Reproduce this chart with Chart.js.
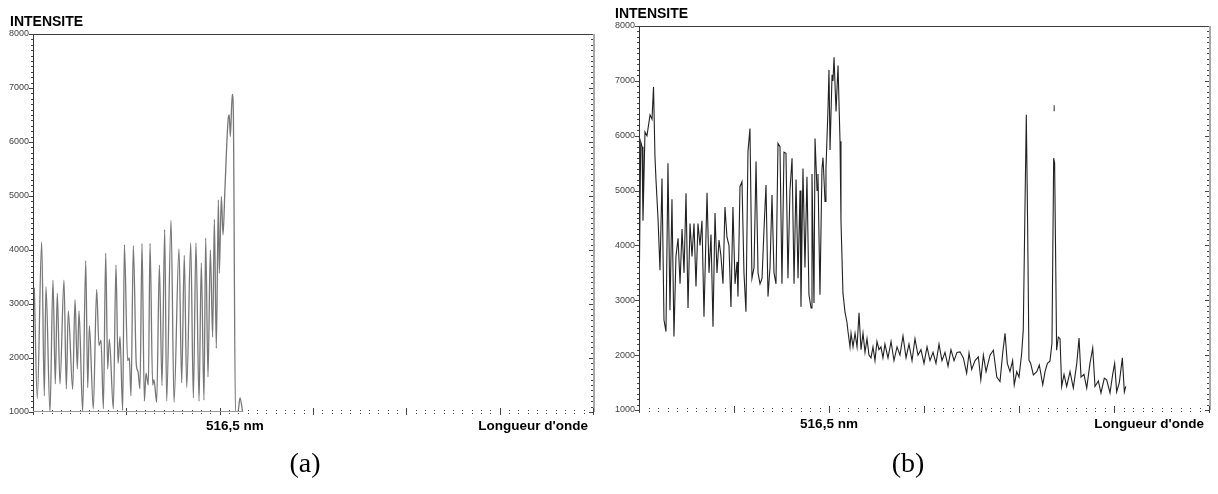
<!DOCTYPE html>
<html>
<head>
<meta charset="utf-8">
<script src="https://cdn.jsdelivr.net/npm/chart.js@4"></script>
<style>
  body { margin: 0; background: #fff; }
  #wrap { position: relative; width: 1218px; height: 494px; }
  canvas { position: absolute; top: 0; }
</style>
</head>
<body>
<div id="wrap">
  <canvas id="chartA" width="606" height="494" style="left:0"></canvas>
  <canvas id="chartB" width="612" height="494" style="left:606px"></canvas>
</div>
<script>
// axis ranges and texts
const yMin = 1000, yMax = 8000, yStep = 1000;
const xMin = 0, xMax = 600;
const titleText = 'INTENSITE';
const markerLabel = '516,5 nm';
const axisLabel = "Longueur d'onde";
const captions = ['(a)', '(b)'];

// spectrum (a): wavelength steps and intensity
const wavelengthA = [
  1.4, 4.6, 9.3, 12.1, 13.9, 18.2, 21.4, 23.9, 26.0, 28.9,
  33.2, 35.7, 37.8, 42.5, 45.0, 47.5, 49.3, 53.2, 56.5, 58.6,
  60.4, 64.6, 68.2, 70.7, 72.9, 75.4, 77.9, 80.0, 81.8, 86.1,
  88.9, 91.1, 93.2, 96.1, 97.9, 101.4, 103.2, 105.0, 107.5, 110.7,
  112.5, 114.6, 116.8, 119.3, 121.1, 123.6, 125.4, 128.2, 129.6, 132.5,
  135.4, 138.2, 141.1, 143.2, 147.9, 151.1, 156.4, 159.3, 162.1, 164.7,
  169.0, 171.8, 174.6, 177.9, 180.3, 183.2, 185.0, 187.5, 190.0, 192.5,
  194.3, 196.4, 198.6, 199.6, 201.8, 203.6, 205.7, 209.2, 210.3, 211.4,
  213.5, 214.6, 216.9, 219.6, 221.8, 224.6
];
const intensityA = [
  3300, 1250, 4150, 1300, 3320, 1000, 3440, 1520, 3200, 1520,
  3440, 1430, 2870, 1420, 3080, 1800, 2870, 1000, 3800, 1450,
  2600, 1060, 3270, 2230, 2330, 1060, 3940, 1800, 2350, 1060,
  3720, 1900, 2400, 1030, 4100, 1950, 2000, 1300, 4080, 1870,
  1750, 1430, 4120, 1200, 1720, 1500, 4120, 1500, 1600, 1180,
  3720, 1490, 4380, 1200, 4550, 1180, 4020, 1540, 3900, 1450,
  4130, 1260, 4130, 1200, 3760, 1220, 4220, 1650, 4000, 2390,
  4570, 2180, 4930, 3570, 4990, 4280, 5150, 6440, 6500, 6100,
  6880, 6600, 1000, 1000, 1260, 1000
];
const markerA = 216.4;

// spectrum (b)
const wavelengthB = [
  0.5, 1.8, 3.2, 4.2, 6.3, 8.4, 11.6, 13.7, 15.3, 16.8,
  17.9, 20.0, 22.1, 24.2, 26.3, 28.4, 30.5, 32.6, 34.7, 36.8,
  38.9, 41.1, 43.2, 45.3, 47.4, 49.5, 51.6, 53.7, 55.8, 57.9,
  60.0, 62.1, 64.2, 66.3, 68.4, 71.6, 73.7, 75.8, 77.9, 80.0,
  82.1, 84.2, 86.3, 88.4, 90.5, 92.6, 94.7, 96.8, 98.9, 101.1,
  103.2, 104.2, 106.3, 108.4, 110.5, 112.6, 114.7, 116.8, 118.9, 121.1,
  123.2, 125.3, 127.4, 129.5, 131.6, 133.7, 135.8, 137.9, 140.0, 142.1,
  144.2, 146.3, 148.4, 150.5, 152.6, 154.7, 156.8, 158.9, 161.1, 163.2,
  165.3, 167.4, 169.5, 170.5, 172.6, 174.7, 176.8, 178.9, 181.1, 182.1,
  184.2, 185.3, 187.4, 188.4, 190.5, 192.6, 193.7, 195.8, 196.8, 198.9,
  200.0, 201.1, 203.2, 204.2, 205.3, 207.4, 209.5, 211.6, 212.6, 214.7,
  216.8, 218.9, 220.0, 222.1, 223.2, 225.3, 227.4, 229.5, 231.6, 233.7,
  235.8, 237.9, 240.0, 242.1, 244.2, 246.3, 248.4, 250.5, 252.6, 254.7,
  256.8, 258.9, 262.1, 265.3, 268.4, 271.6, 274.7, 277.9, 281.1, 284.2,
  287.4, 290.5, 293.7, 296.8, 300.0, 303.2, 306.3, 309.5, 312.6, 315.8,
  318.9, 322.1, 325.3, 328.4, 331.6, 334.7, 337.9, 341.4, 344.9, 347.4,
  350.2, 353.7, 357.2, 359.8, 362.5, 365.3, 369.5, 373.0, 376.6, 380.0,
  382.8, 385.3, 387.7, 390.5, 393.3, 395.0, 397.6, 400.0, 402.8, 404.5,
  406.3, 407.7, 409.1, 410.5, 412.3, 415.1, 418.7, 421.4, 425.0, 427.4,
  429.9, 432.6, 434.7, 436.5, 437.5, 438.6, 439.6, 441.4, 443.2, 444.9,
  447.4, 450.2, 453.7, 457.2, 460.8, 463.2, 465.3, 468.4, 471.3, 474.7,
  477.6, 480.0, 483.5, 486.3, 489.8, 492.3, 495.8, 498.6, 500.7, 502.8,
  505.6, 508.8, 510.9, 512.4
];
const intensityB = [
  3700, 5890, 5800, 4450, 6070, 6000, 6380, 6300, 6890, 5620,
  5190, 4500, 3550, 5220, 2640, 2430, 5500, 2820, 4840, 2340,
  3800, 4130, 3300, 4300, 3500, 4950, 2860, 4400, 3800, 4400,
  3250, 4400, 4000, 4450, 2700, 4960, 3500, 4200, 2520, 4590,
  3500, 4100, 3800, 3300, 4700, 4150, 4000, 2880, 4700, 3300,
  3700, 3070, 5070, 5160, 3500, 2790, 5710, 6130, 3400, 3600,
  5530, 3500, 3300, 3400, 4300, 5100, 3070, 3600, 4920, 3500,
  3300, 5860, 5800, 3300, 5700, 5680, 3400, 5000, 5590, 3300,
  5200, 3400, 5000, 2880, 5400, 3600, 5250, 3100, 2860, 5300,
  2950, 5950, 5000, 5300, 3100, 5400, 5600, 4800, 5400, 6470,
  7200, 5740, 7110, 7000, 7430, 6440, 7280, 5900, 4460, 3130,
  2790, 2600, 2430, 2150, 2400, 2150, 2400, 2150, 2770, 2100,
  2400, 2050, 2300, 2000, 1950, 2150, 1900, 2250, 2100, 2150,
  1950, 2200, 1950, 2250, 1900, 2150, 2000, 2350, 1950, 2200,
  1900, 2300, 2000, 2100, 1850, 2150, 1900, 2050, 1850, 2200,
  1900, 2050, 1800, 2100, 1900, 2050, 2060, 1950, 1670, 2040,
  1740, 1900, 1970, 1550, 2000, 1700, 2000, 2090, 1600, 1520,
  2030, 2400, 1850, 1700, 1900, 1460, 1700, 1600, 2030, 2460,
  4700, 6380, 4340, 1910, 1850, 1640, 1700, 1820, 1460, 1700,
  1850, 1890, 2220, 5590, 5500, 3730, 2090, 2330, 2300, 1430,
  1650, 1430, 1700, 1400, 1850, 2310, 1600, 1650, 1400, 1850,
  2130, 1430, 1530, 1310, 1580, 1550, 1310, 1650, 1850, 1330,
  1500, 1950, 1330, 1430
];
const markerB = 200;
// isolated dot above the second narrow line
const strayB = [{ x: 437.0, y: 6500 }];

const framePlugin = {
  id: 'frame',
  afterDraw(chart, args, opts) {
    const { ctx, chartArea: a, scales: { x, y } } = chart;
    ctx.save();
    ctx.fillStyle = '#3a3a3a';
    ctx.fillRect(a.left, a.top, a.right - a.left, 1);
    ctx.fillStyle = '#a8a8a8';
    ctx.fillRect(a.right, a.top, 2, a.bottom - a.top);

    ctx.fillStyle = '#444';
    for (let v = yMin; v <= yMax; v += 100) {
      const py = Math.round(y.getPixelForValue(v));
      const len = v % 1000 === 0 ? 4 : 2;
      ctx.fillRect(a.left - len, py, len, 1);
      ctx.fillRect(a.right - len, py, len, 1);
    }
    for (let u = xMin; u <= xMax; u += 10) {
      const px = Math.round(x.getPixelForValue(u));
      if (u % 100 === 0) {
        ctx.fillRect(px, a.bottom - 4, 1, 7);
      } else {
        ctx.fillRect(px, a.bottom - 2, 1, 1);
        ctx.fillRect(px, a.bottom + 1, 1, 1);
      }
    }
    if (opts.baselineTo) {
      ctx.fillStyle = '#9a9a9a';
      const xe = x.getPixelForValue(opts.baselineTo);
      ctx.fillRect(a.left, a.bottom - 1, xe - a.left, 1);
    }

    ctx.fillStyle = '#000';
    ctx.textBaseline = 'alphabetic';
    ctx.font = 'bold 14px Arial';
    ctx.textAlign = 'left';
    ctx.fillText(titleText, opts.titleX, opts.titleY);
    ctx.font = 'bold 13.5px Arial';
    ctx.textAlign = 'center';
    ctx.fillText(markerLabel, x.getPixelForValue(opts.marker), a.bottom + 18);
    ctx.textAlign = 'right';
    ctx.fillText(axisLabel, a.right - 5, a.bottom + 18);
    ctx.font = '28px "Liberation Serif", "Times New Roman", serif';
    ctx.textAlign = 'center';
    ctx.fillText(opts.caption, opts.captionX, 472);
    ctx.restore();
  }
};

function makeChart(id, datasets, frame, pad, bottomGap) {
  return new Chart(document.getElementById(id), {
    type: 'line',
    data: { datasets },
    options: {
      responsive: false,
      animation: false,
      events: [],
      layout: { padding: { left: 0, top: pad.top, right: pad.right, bottom: 0 } },
      plugins: { legend: { display: false }, tooltip: { enabled: false }, frame },
      scales: {
        x: {
          type: 'linear', min: xMin, max: xMax,
          grid: { display: false }, border: { display: false },
          ticks: { display: false },
          afterFit: s => { s.height = bottomGap; }
        },
        y: {
          min: yMin, max: yMax,
          grid: { display: false, drawTicks: false },
          border: { display: true, color: '#333', width: 1 },
          ticks: {
            stepSize: yStep, padding: 4, color: '#444',
            font: { size: 9, family: 'Arial' },
            callback: v => String(v)
          },
          afterFit: s => { s.width = 33; }
        }
      }
    },
    plugins: [framePlugin]
  });
}

makeChart('chartA', [{
  data: wavelengthA.map((w, i) => ({ x: w, y: intensityA[i] })),
  borderColor: '#777', borderWidth: 1.3, pointRadius: 0,
  cubicInterpolationMode: 'monotone'
}], { titleX: 10, titleY: 26, marker: markerA, caption: captions[0], captionX: 305, baselineTo: 224.6 },
  { top: 34, right: 13 }, 82);

makeChart('chartB', [{
  data: wavelengthB.map((w, i) => ({ x: w, y: intensityB[i] })),
  borderColor: '#222', borderWidth: 1.1, pointRadius: 0, tension: 0
}, {
  data: strayB, showLine: false, pointStyle: 'line', rotation: 90,
  pointRadius: 3, borderColor: '#222', borderWidth: 1
}], { titleX: 9, titleY: 18, marker: markerB, caption: captions[1], captionX: 302 },
  { top: 26, right: 9 }, 84);
</script>
</body>
</html>
